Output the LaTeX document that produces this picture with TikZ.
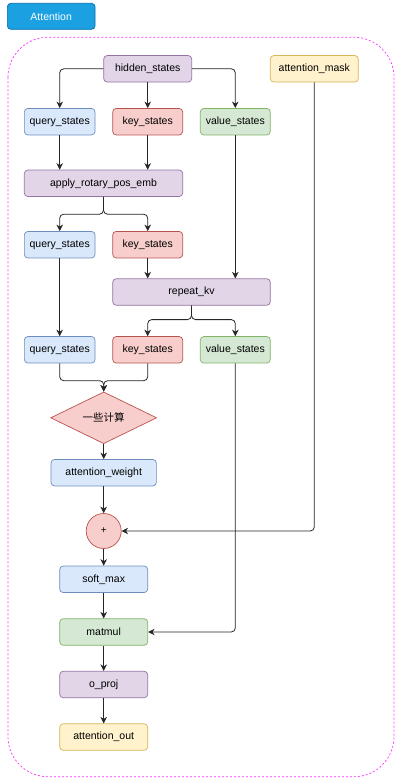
\documentclass[tikz,border=0pt]{standalone}
\usepackage{fontspec}
\setmainfont{Liberation Sans}
\newfontfamily\cjk{Noto Sans CJK SC}
\usetikzlibrary{shapes.geometric,arrows.meta}
\definecolor{purF}{HTML}{E1D5E7}\definecolor{purD}{HTML}{9673A6}
\definecolor{bluF}{HTML}{DAE8FC}\definecolor{bluD}{HTML}{6C8EBF}
\definecolor{redF}{HTML}{F8CECC}\definecolor{redD}{HTML}{B85450}
\definecolor{grnF}{HTML}{D5E8D4}\definecolor{grnD}{HTML}{82B366}
\definecolor{yelF}{HTML}{FFF2CC}\definecolor{yelD}{HTML}{D6B656}
\definecolor{btnF}{HTML}{1BA1E2}\definecolor{btnD}{HTML}{006EAF}
\definecolor{mag}{HTML}{FF33FF}
\begin{document}
\begin{tikzpicture}[x=1pt,y=-1pt,
  box/.style={draw, rounded corners=3.5pt, minimum height=26.5pt, inner sep=0pt, line width=0.7pt, font=\fontsize{10.5}{12}\selectfont},
  pur/.style={box, fill=purF, draw=purD},
  blu/.style={box, fill=bluF, draw=bluD},
  red/.style={box, fill=redF, draw=redD},
  grn/.style={box, fill=grnF, draw=grnD},
  yel/.style={box, fill=yelF, draw=yelD},
  arr/.style={draw=black!85, line width=0.8pt, rounded corners=4pt, -{Stealth[length=6.5pt,width=6.5pt,inset=2pt]}},
  container/.style={draw=mag, line width=0.7pt, dash pattern=on 2pt off 2pt, rounded corners=40pt}]
\useasboundingbox (0,0) rectangle (405,783);
\fill[white] (0,0) rectangle (405,783);
% title button
\node[box, fill=btnF, draw=btnD, text=white, minimum width=87.7pt, minimum height=26pt] (title) at (51.2,16.3) {Attention};
% container
\draw[container] (8,37.3) rectangle (394,776.7);
% nodes
\node[pur, minimum width=88pt] (hs) at (147.7,68.8) {hidden\_states};
\node[yel, minimum width=88pt] (am) at (314.3,68.8) {attention\_mask};
\node[blu, minimum width=70.7pt] (q1) at (59.7,121.7) {query\_states};
\node[red, minimum width=70pt] (k1) at (147.7,121.7) {key\_states};
\node[grn, minimum width=70pt] (v1) at (235.3,121.7) {value\_states};
\node[pur, minimum width=158.4pt] (rot) at (103.5,183.3) {apply\_rotary\_pos\_emb};
\node[blu, minimum width=70.7pt] (q2) at (59.7,244.7) {query\_states};
\node[red, minimum width=70pt] (k2) at (147.7,244.7) {key\_states};
\node[pur, minimum width=157.6pt] (rep) at (191.5,292) {repeat\_kv};
\node[blu, minimum width=70.7pt] (q3) at (59.7,349.8) {query\_states};
\node[red, minimum width=70pt] (k3) at (147.7,349.8) {key\_states};
\node[grn, minimum width=70pt] (v3) at (235.3,349.8) {value\_states};
\node[diamond, draw=redD, fill=redF, line width=0.7pt, minimum width=106pt, minimum height=39pt, inner sep=0pt, font=\cjk\fontsize{10.5}{12}\selectfont] (dia) at (103.7,417.8) {一些计算};
\node[blu, minimum width=105.3pt] (aw) at (103.7,472.7) {attention\_weight};
\node[circle, draw=redD, fill=redF, line width=0.7pt, minimum size=35pt, inner sep=0pt, font=\fontsize{10}{12}\selectfont] (plus) at (103.7,531) {+};
\node[blu, minimum width=88pt] (sm) at (103.7,579.3) {soft\_max};
\node[grn, minimum width=88pt] (mm) at (103.7,632) {matmul};
\node[pur, minimum width=88pt] (op) at (103.7,684.5) {o\_proj};
\node[yel, minimum width=88pt] (ao) at (103.7,737) {attention\_out};
\coordinate (j) at (103.7,380.7);
% connectors
\draw[arr] (hs.west) -| (q1.north);
\draw[arr] (hs.south) -- (k1.north);
\draw[arr] (hs.east) -| (v1.north);
\draw[arr] (q1.south) -- (q1.south |- rot.north);
\draw[arr] (k1.south) -- (k1.south |- rot.north);
\draw[arr] (rot.south) -- ++(0,17.3) -| (q2.north);
\draw[arr] (rot.south) -- ++(0,17.3) -| (k2.north);
\draw[arr] (k2.south) -- (k2.south |- rep.north);
\draw[arr] (v1.south) -- (v1.south |- rep.north);
\draw[arr] (q2.south) -- (q3.north);
\draw[arr] (rep.south) -- ++(0,14) -| (k3.north);
\draw[arr] (rep.south) -- ++(0,14) -| (v3.north);
\draw[arr] (q3.south) |- (j) -- (dia.north);
\draw[arr] (k3.south) |- (j) -- (dia.north);
\draw[arr] (dia.south) -- (aw.north);
\draw[arr] (aw.south) -- (plus.north);
\draw[arr] (am.south) |- (plus.east);
\draw[arr] (plus.south) -- (sm.north);
\draw[arr] (sm.south) -- (mm.north);
\draw[arr] (v3.south) |- (mm.east);
\draw[arr] (mm.south) -- (op.north);
\draw[arr] (op.south) -- (ao.north);
\end{tikzpicture}
\end{document}
